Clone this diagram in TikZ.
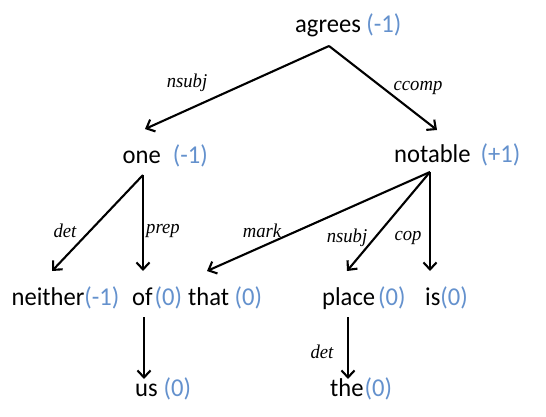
\documentclass[tikz,border=0pt]{standalone}
\usepackage{fontspec}
\setmainfont{Carlito}[FakeStretch=0.957]
\newfontfamily\labfont{Liberation Serif}[FakeStretch=0.957]
\usetikzlibrary{arrows.meta}
\definecolor{numblue}{RGB}{100,145,205}
\newcommand\numtxt[1]{\textcolor{numblue}{#1}}
\begin{document}
\begin{tikzpicture}[x=1pt,y=-1pt,
  word/.style={anchor=base west,inner sep=0pt,font=\fontsize{25.7}{30}\selectfont},
  rel/.style={inner sep=0pt,font=\labfont\itshape\fontsize{19.5}{22}\selectfont},
  dep/.style={line width=2.1pt,-{Straight Barb[length=7pt,width=13pt,line width=2.1pt]}}]
\useasboundingbox (0,0) rectangle (546,417);
% words
\node[word] (agrees)  at (295,33)  {agrees \numtxt{(-1)}};
\node[word] (one)     at (122.5,163) {one\hspace{12pt}\numtxt{(-1)}};
\node[word] (notable) at (394,162) {notable\hspace{10pt}\numtxt{(+1)}};
\node[word] (neither) at (11.5,305) {neither\numtxt{(-1)}};
\node[word] (of)      at (132,305) {of\hspace{2pt}\numtxt{(0)}};
\node[word] (that)    at (188,305) {that \numtxt{(0)}};
\node[word] (place)   at (322,305) {place\hspace{3pt}\numtxt{(0)}};
\node[word] (is)      at (425,305) {is\numtxt{(0)}};
\node[word] (us)      at (135,396) {us\hspace{6pt}\numtxt{(0)}};
\node[word] (the)     at (330,396) {the\hspace{1pt}\numtxt{(0)}};
% attachment points
\coordinate (agreesB) at (329,46);
\coordinate (oneT) at (145,129);
\coordinate (notableT) at (437,130);
\coordinate (oneB) at (143,175);
\coordinate (notableB) at (430,172);
\coordinate (neitherT) at (52,271);
\coordinate (ofT) at (143,271);
\coordinate (thatT) at (207,271);
\coordinate (placeT) at (347,271);
\coordinate (isT) at (430,271);
\coordinate (ofB) at (144,317);
\coordinate (usT) at (144,379);
\coordinate (placeB) at (348,317);
\coordinate (theT) at (348,379);
% edges
\draw[dep] (agreesB) -- (oneT);
\draw[dep] (agreesB) -- (notableT);
\draw[dep] (oneB) -- (neitherT);
\draw[dep] (oneB) -- (ofT);
\draw[dep] (notableB) -- (thatT);
\draw[dep] (notableB) -- (placeT);
\draw[dep] (notableB) -- (isT);
\draw[dep] (ofB) -- (usT);
\draw[dep] (placeB) -- (theT);
% labels
\node[rel] (l1) at (187,83) {nsubj};
\node[rel] (l2) at (418,88) {ccomp};
\node[rel] (l3) at (65,231) {det};
\node[rel] (l4) at (163,231) {prep};
\node[rel] (l5) at (262,231) {mark};
\node[rel] (l6) at (347,238) {nsubj};
\node[rel] (l7) at (408,238) {cop};
\node[rel] (l8) at (322,352) {det};
\end{tikzpicture}
\end{document}
